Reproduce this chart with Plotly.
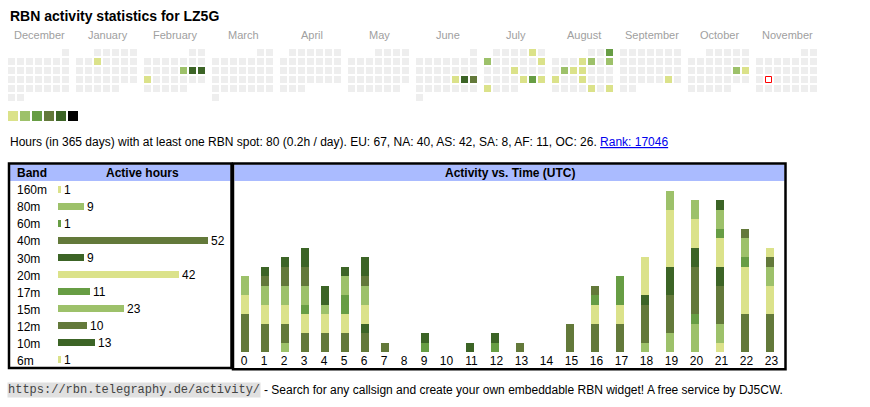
import datetime as dt
import numpy as np
import plotly.graph_objects as go

W, H = 870, 407
FONT = "Liberation Sans, Arial, sans-serif"
MONO = "Liberation Mono, Courier New, monospace"

# activity level colours (1..6) and empty day colour
level_colors = ['#dbe28a', '#9dc16a', '#679d44', '#63793a', '#3c6426', '#000000']
empty_color = '#eeeeee'

# calendar: months shown and days with activity
month_names = ['December', 'January', 'February', 'March', 'April', 'May', 'June',
               'July', 'August', 'September', 'October', 'November']
month_keys = [(2024, 12), (2025, 1), (2025, 2), (2025, 3), (2025, 4), (2025, 5),
              (2025, 6), (2025, 7), (2025, 8), (2025, 9), (2025, 10), (2025, 11)]
active_days = ['2025-01-08', '2025-02-14', '2025-02-15', '2025-02-16', '2025-02-17',
               '2025-06-20', '2025-06-21', '2025-06-22',
               '2025-07-05', '2025-07-07', '2025-07-13', '2025-07-17', '2025-07-25',
               '2025-07-26', '2025-07-27', '2025-07-28',
               '2025-08-03', '2025-08-07', '2025-08-08', '2025-08-10', '2025-08-12',
               '2025-08-13', '2025-08-14', '2025-08-18', '2025-08-21', '2025-08-29',
               '2025-08-31', '2025-09-27', '2025-10-18', '2025-10-19']
active_levels = [1, 2, 5, 5, 1,
                 1, 5, 4,
                 1, 2, 1, 1, 1,
                 3, 1, 1,
                 3, 1, 2, 2, 2,
                 1, 1, 1, 1, 1,
                 1, 1, 2, 1]
today = '2025-11-18'

# bands table
bands = ['160m', '80m', '60m', '40m', '30m', '20m', '17m', '15m', '12m', '10m', '6m']
band_hours = [1, 9, 1, 52, 9, 42, 11, 23, 10, 13, 1]
band_colors = ['#dbe28a', '#9dc16a', '#679d44', '#63793a', '#3c6426',
               '#dbe28a', '#679d44', '#9dc16a', '#63793a', '#3c6426', '#dbe28a']

# activity vs. time (UTC), hours per band
hours = list(range(24))
hourly = {
    '160m': [0, 0, 0, 0, 0, 0, 0, 0, 0, 0, 0, 0, 0, 0, 0, 0, 0, 0, 0, 0, 0, 1, 0, 0],
    '80m':  [0, 0, 1, 0, 0, 0, 0, 0, 0, 0, 0, 0, 0, 0, 0, 0, 0, 0, 1, 2, 3, 2, 0, 0],
    '60m':  [0, 0, 0, 0, 0, 0, 0, 0, 0, 0, 0, 0, 0, 0, 0, 0, 0, 0, 0, 0, 1, 0, 0, 0],
    '40m':  [4, 3, 2, 2, 2, 2, 2, 1, 0, 0, 0, 0, 0, 0, 0, 3, 3, 3, 4, 4, 5, 4, 4, 4],
    '30m':  [0, 0, 0, 0, 0, 0, 1, 0, 0, 0, 0, 0, 0, 0, 0, 0, 0, 0, 1, 3, 2, 2, 0, 0],
    '20m':  [2, 2, 2, 2, 2, 2, 2, 0, 0, 0, 0, 0, 0, 0, 0, 0, 2, 2, 4, 6, 3, 3, 5, 3],
    '17m':  [0, 0, 0, 1, 0, 2, 0, 0, 0, 1, 0, 0, 1, 0, 0, 0, 1, 3, 0, 0, 0, 1, 1, 0],
    '15m':  [2, 2, 2, 2, 1, 2, 2, 0, 0, 0, 0, 0, 0, 0, 0, 0, 0, 0, 0, 2, 2, 2, 2, 2],
    '12m':  [0, 1, 2, 2, 0, 0, 1, 0, 0, 0, 0, 0, 0, 1, 0, 0, 1, 0, 0, 0, 0, 0, 1, 1],
    '10m':  [0, 1, 1, 2, 2, 1, 2, 0, 0, 1, 0, 1, 1, 0, 0, 0, 0, 0, 0, 0, 0, 1, 0, 0],
    '6m':   [0, 0, 0, 0, 0, 0, 0, 0, 0, 0, 0, 0, 0, 0, 0, 0, 0, 0, 0, 0, 0, 0, 0, 1],
}

summary = ("Hours (in 365 days) with at least one RBN spot: 80 (0.2h / day). "
           "EU: 67, NA: 40, AS: 42, SA: 8, AF: 11, OC: 26. ")
rank_text = "Rank: 17046"


def px(x):
    return x / W


def py(y):
    return 1 - y / H


fig = go.Figure()

# ---- calendar cells (pixel overlay axis) ----
level_of = dict(zip(active_days, active_levels))
cx, cy, cc = [], [], []
tx, ty = [], []
for m, (yr, mo) in enumerate(month_keys):
    d = dt.date(yr, mo, 1)
    first_wd = d.weekday()
    while d.month == mo:
        col = d.weekday()
        row = (d.day - 1 + first_wd) // 7
        x = 8 + 68 * m + 9 * col + 3.5
        y = 49 + 9 * row + 3.5
        key = d.isoformat()
        if key == today:
            tx.append(x)
            ty.append(y)
        else:
            cx.append(x)
            cy.append(y)
            lv = level_of.get(key, 0)
            cc.append(level_colors[lv - 1] if lv else empty_color)
        d += dt.timedelta(days=1)

fig.add_trace(go.Scatter(x=cx, y=cy, mode='markers', xaxis='x3', yaxis='y3',
                         marker=dict(symbol='square', size=7, color=cc, line=dict(width=0)),
                         hoverinfo='skip'))
fig.add_trace(go.Scatter(x=tx, y=ty, mode='markers', xaxis='x3', yaxis='y3',
                         marker=dict(symbol='square', size=6, color='#ffffff',
                                     line=dict(width=1, color='#ff0000')),
                         hoverinfo='skip'))

# legend squares
fig.add_trace(go.Scatter(x=[13 + 12 * i for i in range(len(level_colors))],
                         y=[116] * len(level_colors), mode='markers', xaxis='x3', yaxis='y3',
                         marker=dict(symbol='square', size=10, color=level_colors, line=dict(width=0)),
                         hoverinfo='skip'))

# ---- band table bars ----
fig.add_trace(go.Bar(x=band_hours, y=bands, orientation='h', xaxis='x', yaxis='y',
                     marker=dict(color=band_colors, line=dict(width=0)), width=0.38,
                     text=[str(v) for v in band_hours], textposition='outside',
                     constraintext='none',
                     textfont=dict(family=FONT, size=12, color='#000000'),
                     cliponaxis=False, hoverinfo='skip'))

# ---- activity vs time ----
cell_w = np.array([20 if h < 10 else 25 for h in hours])
cell_left = 234 + np.concatenate([[0], np.cumsum(cell_w)[:-1]])
label_x = cell_left + cell_w / 2
bar_x = cell_left + 10.5
for b, col in zip(bands, band_colors):
    fig.add_trace(go.Bar(x=bar_x, y=hourly[b], xaxis='x2', yaxis='y2', width=8,
                         marker=dict(color=col, line=dict(width=0)), name=b,
                         hoverinfo='skip'))

ann = []
ann.append(dict(x=px(8), y=py(16), text="<b>RBN activity statistics for LZ5G</b>",
                font=dict(family=FONT, size=14, color='#000000')))
for m, name in enumerate(month_names):
    ann.append(dict(x=px(39.5 + 68 * m), y=py(35), text=name, xanchor='center',
                    font=dict(family=FONT, size=11, color='#a0a0a0')))
ann.append(dict(x=px(8), y=py(142),
                text=summary + "<span style='color:#0000ee'><u>" + rank_text + "</u></span>",
                font=dict(family=FONT, size=12, color='#000000')))
ann.append(dict(x=px(15), y=py(173), text="<b>Band</b>",
                font=dict(family=FONT, size=12, color='#000000')))
ann.append(dict(x=px(142.5), y=py(173), text="<b>Active hours</b>", xanchor='center',
                font=dict(family=FONT, size=12, color='#000000')))
ann.append(dict(x=px(509.5), y=py(173), text="<b>Activity vs. Time (UTC)</b>", xanchor='center',
                font=dict(family=FONT, size=12, color='#000000')))
for b in bands:
    ann.append(dict(x=px(15), xref='paper', y=b, yref='y', yshift=-1, text=b,
                    font=dict(family=FONT, size=12, color='#000000')))
ann.append(dict(x=px(7), y=py(390), text="https://rbn.telegraphy.de/activity/",
                bgcolor='#e0e0e0', borderpad=0,
                font=dict(family=MONO, size=12, color='#444444')))
ann.append(dict(x=px(261.5), y=py(390),
                text="- Search for any callsign and create your own embeddable RBN widget! "
                     "A free service by DJ5CW.",
                font=dict(family=FONT, size=12, color='#000000')))
for a in ann:
    a.setdefault('xref', 'paper')
    a.setdefault('yref', 'paper')
    a.setdefault('xanchor', 'left')
    a.setdefault('yanchor', 'middle')
    a['showarrow'] = False

shapes = [
    dict(type='rect', x0=px(10), x1=px(230.5), y0=py(164.5), y1=py(181),
         fillcolor='#aabbff', line=dict(width=0), layer='below'),
    dict(type='rect', x0=px(234.5), x1=px(784.5), y0=py(164.5), y1=py(181),
         fillcolor='#aabbff', line=dict(width=0), layer='below'),
    dict(type='rect', x0=px(9), x1=px(231.5), y0=py(163.5), y1=py(368),
         line=dict(width=2.5, color='#000000')),
    dict(type='rect', x0=px(233), x1=px(785.5), y0=py(163.5), y1=py(369.3),
         line=dict(width=2.5, color='#000000')),
]
for s in shapes:
    s['xref'] = 'paper'
    s['yref'] = 'paper'

hidden = dict(showgrid=False, zeroline=False, showline=False, showticklabels=False, ticks='')
fig.update_layout(
    width=W, height=H, margin=dict(l=0, r=0, t=0, b=0),
    paper_bgcolor='white', plot_bgcolor='rgba(0,0,0,0)',
    showlegend=False, barmode='stack', bargap=0,
    font=dict(family=FONT, size=12, color='#000000'),
    annotations=ann, shapes=shapes,
    xaxis=dict(domain=[px(58), px(231)], range=[0, 60], **hidden),
    yaxis=dict(domain=[py(368), py(181)], type='category', categoryarray=bands,
               range=[10.5, -0.5], **hidden),
    xaxis2=dict(domain=[px(234), px(784)], range=[234, 784], anchor='y2',
                showgrid=False, zeroline=False, showline=False, ticks='',
                tickvals=label_x, ticktext=[str(h) for h in hours],
                tickfont=dict(family=FONT, size=12, color='#000000')),
    yaxis2=dict(domain=[py(352), py(181)], range=[0, 18], anchor='x2', **hidden),
    xaxis3=dict(domain=[0, 1], range=[0, W], anchor='y3', **hidden),
    yaxis3=dict(domain=[0, 1], range=[H, 0], anchor='x3', **hidden),
)

fig.write_html("out.html", config={'displayModeBar': False},
               post_script="document.body.style.margin='0';")
